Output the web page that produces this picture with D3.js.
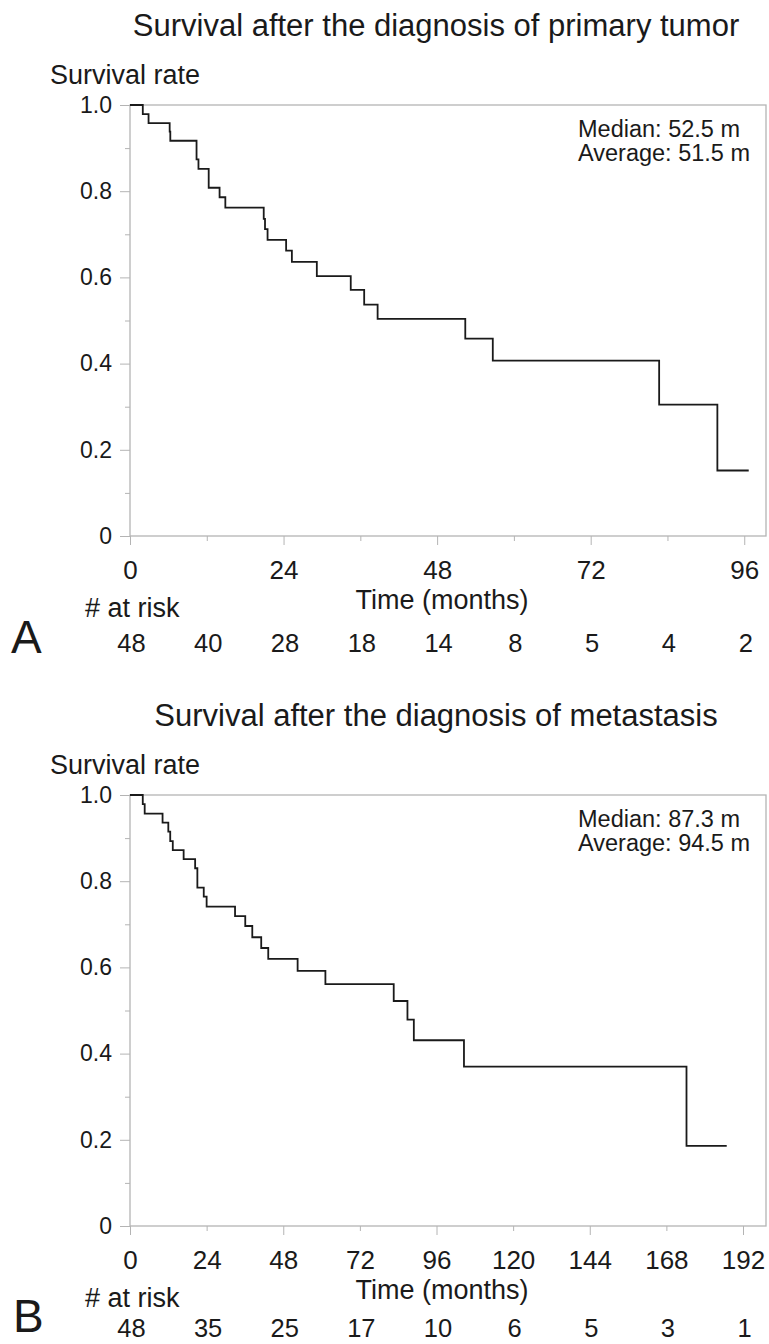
<!DOCTYPE html>
<html>
<head>
<meta charset="utf-8">
<script src="https://cdn.jsdelivr.net/npm/d3@7"></script>
<style>
  body { margin: 0; background: #fff; }
  svg { display: block; font-family: "Liberation Sans", Arial, sans-serif; }
</style>
</head>
<body>
<div id="chart"></div>
<script>
// Panel A: survival after diagnosis of primary tumor
const timesA = [0, 2.0, 2.9, 6.2, 6.3, 10.4, 10.7, 12.3, 14.0, 14.9, 20.9, 21.1, 21.5, 24.4, 25.3, 29.2, 34.5, 36.6, 38.7, 52.4, 56.7, 82.7, 91.8];
const survA = [1.0, 0.979, 0.958, 0.938, 0.917, 0.874, 0.852, 0.808, 0.786, 0.762, 0.736, 0.712, 0.687, 0.662, 0.636, 0.603, 0.571, 0.537, 0.504, 0.458, 0.407, 0.305, 0.152];
const lastA = 96.7;
const riskTimesA = [0, 12, 24, 36, 48, 60, 72, 84, 96];
const riskA = [48, 40, 28, 18, 14, 8, 5, 4, 2];
const xTicksA = [0, 24, 48, 72, 96];
const xMinorA = [12, 36, 60, 84];

// Panel B: survival after diagnosis of metastasis
const timesB = [0, 4.0, 4.6, 10.2, 12.0, 12.6, 13.4, 16.8, 20.4, 21.1, 23.1, 24.0, 32.9, 36.1, 38.3, 41.1, 43.3, 52.5, 61.2, 82.6, 86.9, 88.9, 104.6, 174.3];
const survB = [1.0, 0.979, 0.957, 0.936, 0.915, 0.893, 0.872, 0.851, 0.830, 0.785, 0.764, 0.741, 0.719, 0.696, 0.670, 0.645, 0.620, 0.592, 0.561, 0.522, 0.479, 0.431, 0.370, 0.186];
const lastB = 186.9;
const riskTimesB = [0, 24, 48, 72, 96, 120, 144, 168, 192];
const riskB = [48, 35, 25, 17, 10, 6, 5, 3, 1];
const xTicksB = [0, 48, 96, 144, 192];
const xMinorB = [24, 72, 120, 168];

const yMajor = [0, 0.2, 0.4, 0.6, 0.8, 1.0];
const yMinor = [0.1, 0.3, 0.5, 0.7, 0.9];

const W = 769, H = 1344;
const textColor = "#1a1a1a", axisColor = "#b4b4b4";

const svg = d3.select("#chart").append("svg")
  .attr("width", W).attr("height", H);

function drawPanel(cfg) {
  const g = svg.append("g").attr("transform", `translate(0, ${cfg.offset})`);
  const left = 130, right = 766, top = 105, bottom = 536;

  const x = d3.scaleLinear().domain([0, cfg.xMax]).range([left, right]);
  const y = d3.scaleLinear().domain([0, 1]).range([bottom, top]);

  // title
  g.append("text")
    .attr("x", 436).attr("y", 36)
    .attr("text-anchor", "middle")
    .attr("font-size", 31).attr("fill", textColor)
    .text(cfg.title);

  g.append("text")
    .attr("x", 50).attr("y", 84)
    .attr("font-size", 27).attr("fill", textColor)
    .text("Survival rate");

  // frame
  g.append("rect")
    .attr("x", left).attr("y", top)
    .attr("width", right - left).attr("height", bottom - top)
    .attr("fill", "none").attr("stroke", axisColor).attr("stroke-width", 1.3);

  // y axis
  const yAx = g.append("g").attr("transform", `translate(${left},0)`)
    .call(d3.axisLeft(y).tickValues(yMajor).tickSize(10).tickPadding(8)
      .tickFormat(d => d === 0 ? "0" : d.toFixed(1)));
  g.append("g").attr("transform", `translate(${left},0)`)
    .call(d3.axisLeft(y).tickValues(yMinor).tickSize(5).tickFormat(""))
    .call(a => a.select(".domain").remove())
    .selectAll("line").attr("stroke", axisColor);
  yAx.select(".domain").remove();
  yAx.selectAll("line").attr("stroke", axisColor);
  yAx.selectAll("text").attr("font-size", 23).attr("fill", textColor)
    .attr("font-family", "Liberation Sans, Arial, sans-serif");

  // x axis
  const xAx = g.append("g").attr("transform", `translate(0,${bottom})`)
    .call(d3.axisBottom(x).tickValues(cfg.xTicks).tickSize(9).tickPadding(16));
  xAx.select(".domain").remove();
  xAx.selectAll("line").attr("stroke", axisColor);
  xAx.selectAll("text").attr("font-size", 26).attr("fill", textColor)
    .attr("font-family", "Liberation Sans, Arial, sans-serif");

  const xMin = g.append("g").attr("transform", `translate(0,${bottom})`)
    .call(d3.axisBottom(x).tickValues(cfg.xMinor).tickSize(5).tickPadding(16)
      .tickFormat(cfg.labelMinor ? d3.format("d") : ""));
  xMin.select(".domain").remove();
  xMin.selectAll("line").attr("stroke", axisColor);
  xMin.selectAll("text").attr("font-size", 26).attr("fill", textColor)
    .attr("y", 25).attr("font-family", "Liberation Sans, Arial, sans-serif");

  g.append("text")
    .attr("x", 442).attr("y", 609)
    .attr("text-anchor", "middle")
    .attr("font-size", 27).attr("fill", textColor)
    .text("Time (months)");

  // survival curve
  const pts = cfg.times.map((t, i) => ({t: t, s: cfg.surv[i]}));
  pts.push({t: cfg.last, s: cfg.surv[cfg.surv.length - 1]});
  const line = d3.line()
    .x(d => x(d.t)).y(d => y(d.s))
    .curve(d3.curveStepAfter);
  g.append("path")
    .datum(pts)
    .attr("d", line)
    .attr("fill", "none")
    .attr("stroke", "#1a1a1a")
    .attr("stroke-width", 1.8);

  // median / average
  g.append("text")
    .attr("x", 578).attr("y", 137)
    .attr("font-size", 23.5).attr("fill", textColor)
    .text(cfg.median);
  g.append("text")
    .attr("x", 578).attr("y", 161)
    .attr("font-size", 23.5).attr("fill", textColor)
    .text(cfg.average);

  // number at risk
  g.append("text")
    .attr("x", 85).attr("y", 617)
    .attr("font-size", 27).attr("fill", textColor)
    .text("# at risk");
  g.selectAll(".risk")
    .data(cfg.riskTimes)
    .enter()
    .append("text")
    .attr("class", "risk")
    .attr("x", d => x(d) + 1.5)
    .attr("y", cfg.riskY)
    .attr("text-anchor", "middle")
    .attr("font-size", 25.5).attr("fill", textColor)
    .text((d, i) => cfg.risk[i]);

  // panel letter
  g.append("text")
    .attr("x", cfg.letterX).attr("y", cfg.letterY)
    .attr("font-size", 46).attr("fill", textColor)
    .text(cfg.letter);
}

drawPanel({
  offset: 0, xMax: 99.4,
  title: "Survival after the diagnosis of primary tumor",
  times: timesA, surv: survA, last: lastA,
  xTicks: xTicksA, xMinor: xMinorA, labelMinor: false,
  riskTimes: riskTimesA, risk: riskA, riskY: 652,
  median: "Median: 52.5 m", average: "Average: 51.5 m",
  letter: "A", letterX: 11, letterY: 653
});

drawPanel({
  offset: 690, xMax: 199.2,
  title: "Survival after the diagnosis of metastasis",
  times: timesB, surv: survB, last: lastB,
  xTicks: xTicksB, xMinor: xMinorB, labelMinor: true,
  riskTimes: riskTimesB, risk: riskB, riskY: 647,
  median: "Median: 87.3 m", average: "Average: 94.5 m",
  letter: "B", letterX: 13, letterY: 642
});
</script>
</body>
</html>
